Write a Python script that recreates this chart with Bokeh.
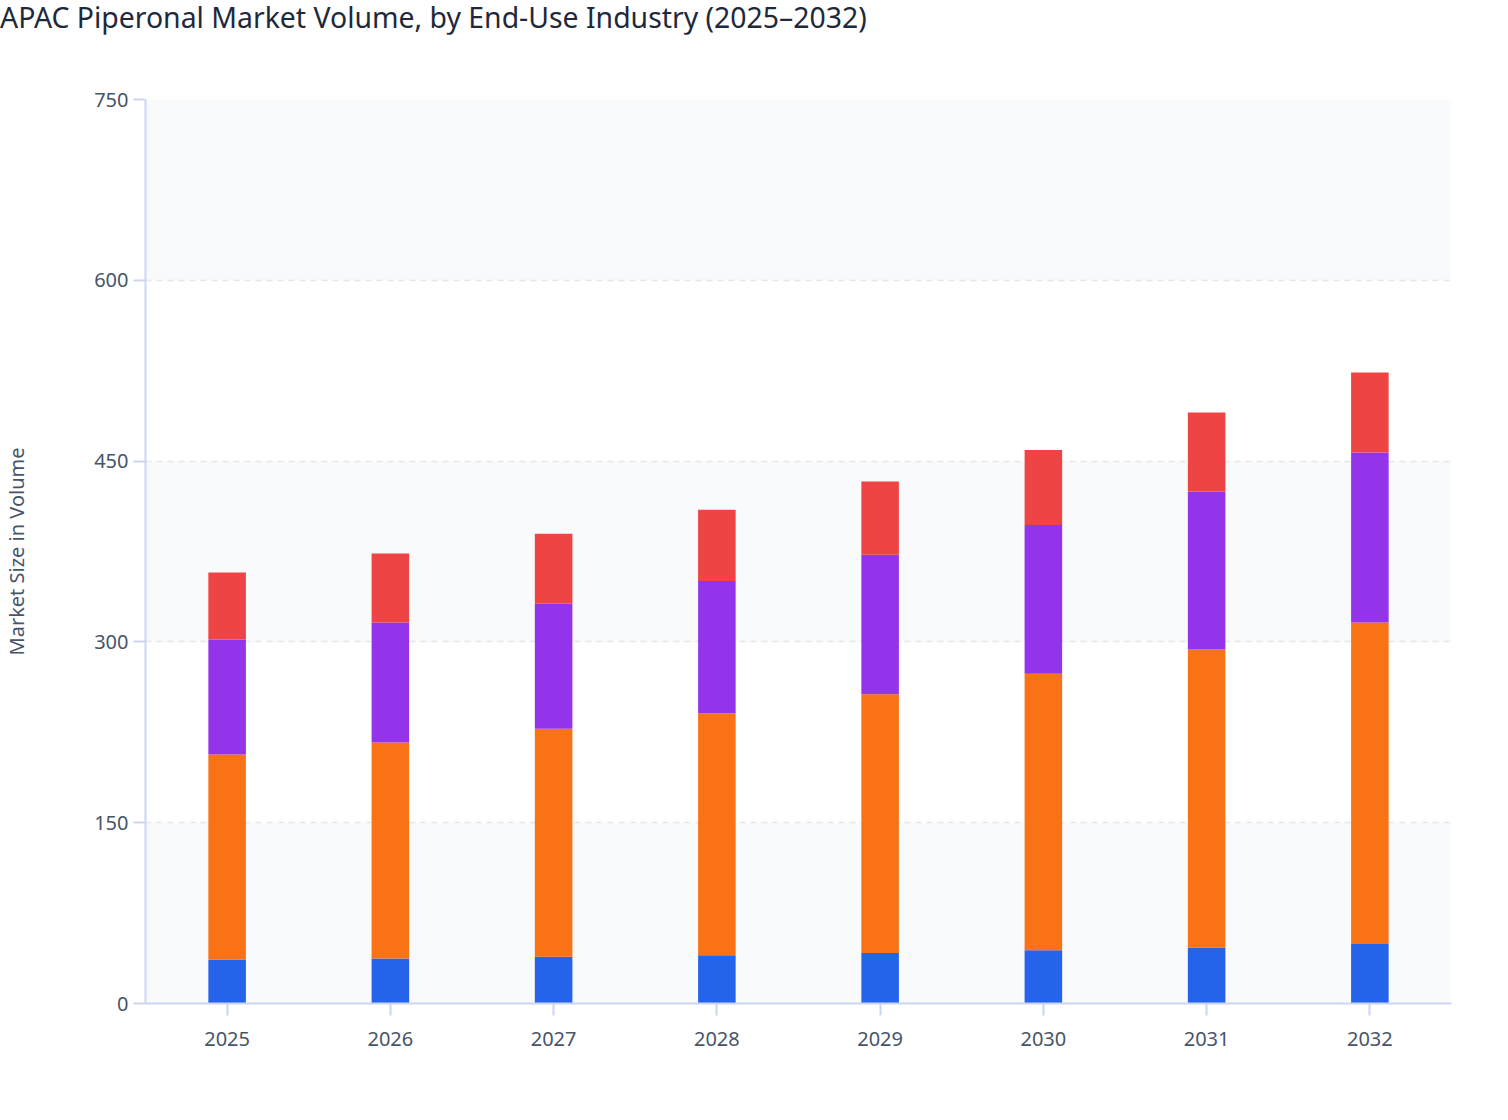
from bokeh.plotting import figure
from bokeh.models import ColumnDataSource, FixedTicker, BoxAnnotation, Div
from bokeh.layouts import column
from bokeh.embed import file_html
from bokeh.resources import INLINE

# Data (stacked segments, bottom to top)
years = ["2025", "2026", "2027", "2028", "2029", "2030", "2031", "2032"]
segment_a = [36.5, 37.3, 38.7, 40.1, 42.0, 44.2, 46.5, 49.4]       # blue
segment_b = [170.1, 179.2, 189.3, 200.8, 214.5, 229.4, 247.2, 266.7]  # orange
segment_c = [95.4, 99.6, 103.7, 109.6, 115.9, 123.4, 131.1, 141.0]    # purple
segment_d = [55.6, 57.3, 58.1, 59.2, 60.6, 62.2, 65.5, 66.4]          # red
y_ticks = [0, 150, 300, 450, 600, 750]

stack_names = ["segment_a", "segment_b", "segment_c", "segment_d"]
colors = ["#2563eb", "#f97316", "#9333ea", "#ef4444"]

source = ColumnDataSource(data=dict(
    years=years,
    segment_a=segment_a,
    segment_b=segment_b,
    segment_c=segment_c,
    segment_d=segment_d,
))

FONT = "Noto Sans"

title = Div(text="APAC Piperonal Market Volume, by End-Use Industry (2025\u20132032)",
            width=1500, height=34,
            styles={"font-family": FONT, "font-size": "28.4px", "line-height": "34px",
                    "color": "#1e293b", "white-space": "nowrap", "margin": "0"})

p = figure(x_range=years, y_range=(0, 750), width=1500, height=1046,
           toolbar_location=None, output_backend="svg",
           min_border_left=145, min_border_right=49,
           min_border_top=65, min_border_bottom=77)

# shaded bands on every other grid interval, drawn beneath everything
for i in range(0, len(y_ticks) - 1, 2):
    p.add_layout(BoxAnnotation(bottom=y_ticks[i], top=y_ticks[i + 1], level="image",
                               fill_color="#f8fafc", fill_alpha=1.0, line_color=None))

p.vbar_stack(stack_names, x="years", width=0.23, color=colors, line_color=None,
             source=source)

p.outline_line_color = None
p.background_fill_color = "white"

p.xgrid.grid_line_color = None
p.ygrid.ticker = FixedTicker(ticks=y_ticks)
p.ygrid.grid_line_color = "#e5e7eb"
p.ygrid.grid_line_dash = "6 5"
p.ygrid.grid_line_width = 1.5

axis_color = "#cbd5f1"
label_color = "#475569"

p.yaxis.ticker = FixedTicker(ticks=y_ticks)
p.yaxis.axis_label = "Market Size in Volume"
p.yaxis.axis_label_text_font = FONT
p.yaxis.axis_label_text_font_size = "20px"
p.yaxis.axis_label_text_font_style = "normal"
p.yaxis.axis_label_text_color = label_color
p.yaxis.axis_label_standoff = 61
p.yaxis.major_label_text_font = FONT
p.yaxis.major_label_text_font_size = "20px"
p.yaxis.major_label_text_color = label_color
p.yaxis.major_label_standoff = 5
p.yaxis.major_tick_out = 12
p.yaxis.major_tick_in = 0
p.yaxis.minor_tick_line_color = None

p.xaxis.major_label_text_font = FONT
p.xaxis.major_label_text_font_size = "20px"
p.xaxis.major_label_text_color = label_color
p.xaxis.major_label_standoff = 16
p.xaxis.major_tick_out = 12
p.xaxis.major_tick_in = 0

for ax in (p.xaxis, p.yaxis):
    ax.axis_line_color = axis_color
    ax.axis_line_width = 2
    ax.major_tick_line_color = axis_color
    ax.major_tick_line_width = 2

layout = column(title, p, spacing=0)
open("out.html", "w").write(file_html(layout, INLINE))
